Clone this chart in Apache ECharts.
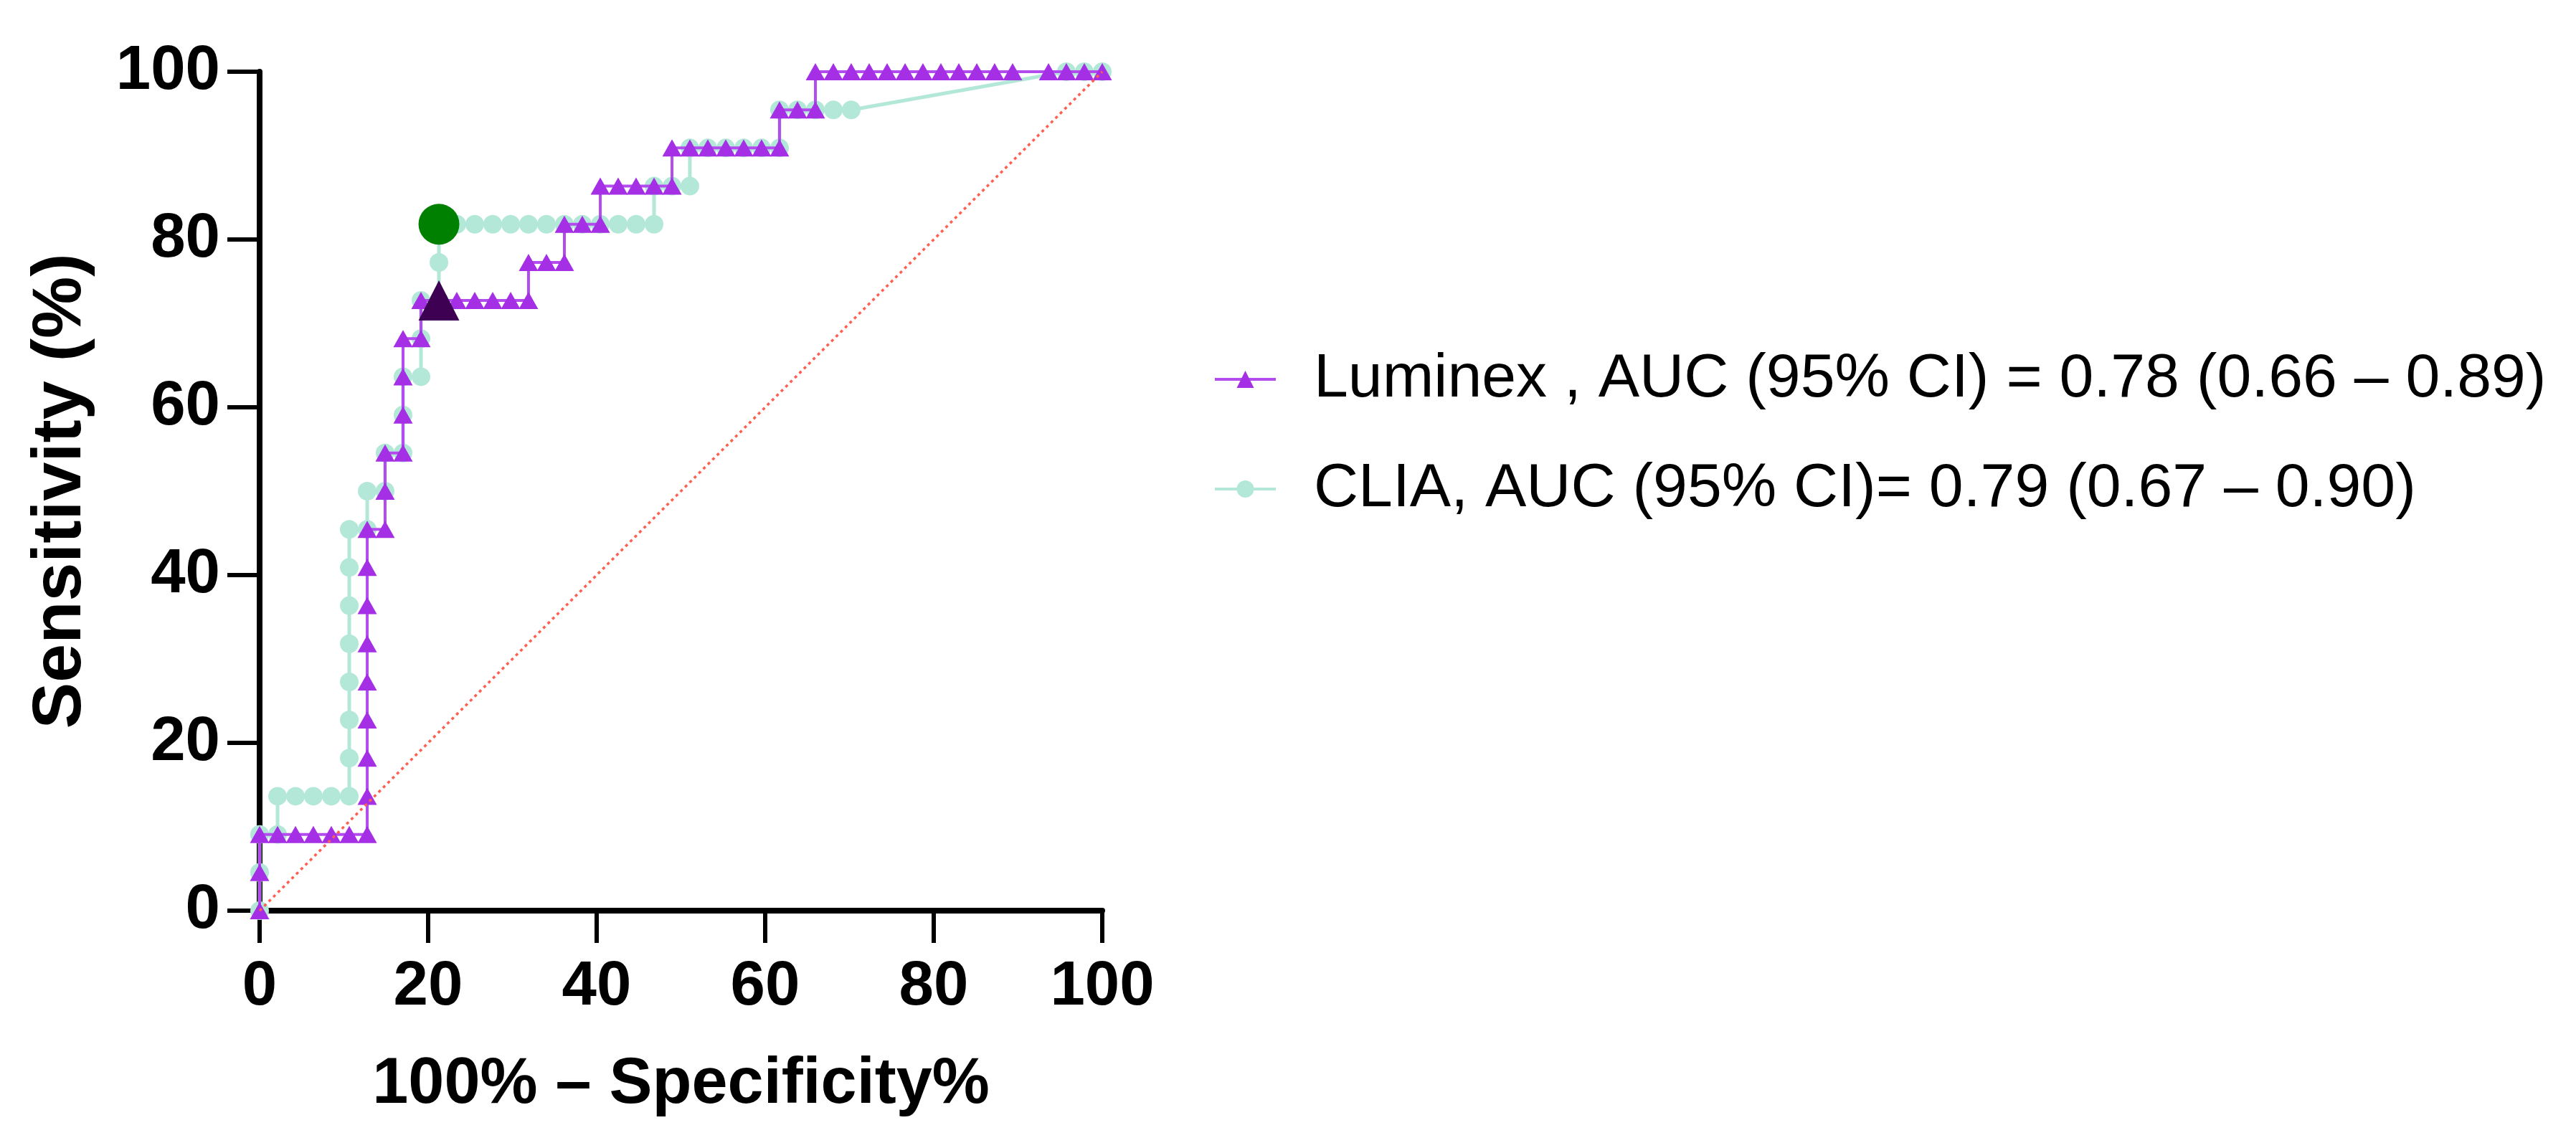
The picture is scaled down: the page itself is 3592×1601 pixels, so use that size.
<!DOCTYPE html>
<html><head><meta charset="utf-8">
<script src="https://cdn.jsdelivr.net/npm/echarts@6/dist/echarts.min.js"></script>
<style>html,body{margin:0;padding:0;background:#fff}#c{width:3592px;height:1601px}</style>
</head><body><div id="c"></div>
<script>
// ---- data ----
const seriesNames = ['Luminex , AUC (95% CI) = 0.78 (0.66 \u2013 0.89)', 'CLIA, AUC (95% CI)= 0.79 (0.67 \u2013 0.90)'];
const xAxisTitle = '100% \u2013 Specificity%';
const yAxisTitle = 'Sensitivity (%)';

const luminexFpr = [0,0,0,2.13,4.26,6.38,8.51,10.64,12.77,12.77,12.77,12.77,12.77,12.77,12.77,12.77,12.77,14.89,14.89,14.89,17.02,17.02,17.02,17.02,19.15,19.15,21.28,23.40,25.53,27.66,29.79,31.91,31.91,34.04,36.17,36.17,38.30,40.43,40.43,42.55,44.68,46.81,48.94,48.94,51.06,53.19,55.32,57.45,59.57,61.70,61.70,63.83,65.96,65.96,68.09,70.21,72.34,74.47,76.60,78.72,80.85,82.98,85.11,87.23,89.36,93.62,95.74,97.87,100];
const luminexSens = [0,4.55,9.09,9.09,9.09,9.09,9.09,9.09,9.09,13.64,18.18,22.73,27.27,31.82,36.36,40.91,45.45,45.45,50,54.55,54.55,59.09,63.64,68.18,68.18,72.73,72.73,72.73,72.73,72.73,72.73,72.73,77.27,77.27,77.27,81.82,81.82,81.82,86.36,86.36,86.36,86.36,86.36,90.91,90.91,90.91,90.91,90.91,90.91,90.91,95.45,95.45,95.45,100,100,100,100,100,100,100,100,100,100,100,100,100,100,100,100];

const cliaFpr = [0,0,0,2.13,2.13,4.26,6.38,8.51,10.64,10.64,10.64,10.64,10.64,10.64,10.64,10.64,12.77,12.77,14.89,14.89,17.02,17.02,17.02,19.15,19.15,19.15,21.28,21.28,21.28,23.40,25.53,27.66,29.79,31.91,34.04,36.17,38.30,40.43,42.55,44.68,46.81,46.81,48.94,51.06,51.06,53.19,55.32,57.45,59.57,61.70,61.70,63.83,65.96,68.09,70.21,95.74,97.87,100];
const cliaSens = [0,4.55,9.09,9.09,13.64,13.64,13.64,13.64,13.64,18.18,22.73,27.27,31.82,36.36,40.91,45.45,45.45,50,50,54.55,54.55,59.09,63.64,63.64,68.18,72.73,72.73,77.27,81.82,81.82,81.82,81.82,81.82,81.82,81.82,81.82,81.82,81.82,81.82,81.82,81.82,86.36,86.36,86.36,90.91,90.91,90.91,90.91,90.91,90.91,95.45,95.45,95.45,95.45,95.45,100,100,100];

const luminexCutoff = [21.28, 72.73];
const cliaCutoff = [21.28, 81.82];
const chanceLine = [[0, 0], [100, 100]];

// ---- build ----
const zip = (a, b) => a.map((v, i) => [v, b[i]]);
const FONT = '"Liberation Sans", Arial, sans-serif';
const PURPLE = '#a42fe4';
const PURPLE_LINE = '#b24cee';
const TEAL = '#b3e8d9';

const chart = echarts.init(document.getElementById('c'), null, {renderer: 'canvas'});

const axisCommon = {
  type: 'value', min: 0, max: 100, interval: 20,
  splitLine: {show: false},
  axisLine: {show: true, onZero: false, lineStyle: {color: '#000', width: 8}},
  axisTick: {show: true, length: 45, lineStyle: {color: '#000', width: 6}},
  nameLocation: 'middle',
  nameTextStyle: {fontFamily: FONT, fontWeight: 'bold', color: '#000'}
};

chart.setOption({
  animation: false,
  backgroundColor: '#fff',
  grid: {left: 362, right: 3592 - 1537, top: 100, bottom: 1601 - 1270, containLabel: false, outerBoundsMode: 'none'},
  xAxis: Object.assign({}, axisCommon, {
    name: xAxisTitle, nameGap: 198,
    nameTextStyle: {fontFamily: FONT, fontWeight: 'bold', color: '#000', fontSize: 90},
    axisLabel: {margin: 64, fontFamily: FONT, fontWeight: 'bold', fontSize: 87, color: '#000'}
  }),
  yAxis: Object.assign({}, axisCommon, {
    name: yAxisTitle, nameGap: 228,
    nameTextStyle: {fontFamily: FONT, fontWeight: 'bold', color: '#000', fontSize: 97},
    axisLabel: {margin: 55, fontFamily: FONT, fontWeight: 'bold', fontSize: 87, color: '#000'}
  }),
  legend: [
    {data: [seriesNames[0]], left: 1687, top: 479, itemWidth: 85, itemHeight: 30,
     lineStyle: {width: 4},
     textStyle: {fontFamily: FONT, fontSize: 86, lineHeight: 90, color: '#000', padding: [0, 0, 0, 48]}},
    {data: [seriesNames[1]], left: 1687, top: 632, itemWidth: 85, itemHeight: 30,
     lineStyle: {width: 4},
     textStyle: {fontFamily: FONT, fontSize: 86, lineHeight: 90, color: '#000', padding: [0, 0, 0, 48]}}
  ],
  series: [
    {
      name: seriesNames[1], type: 'line', data: zip(cliaFpr, cliaSens), z: 2,
      symbol: 'circle', symbolSize: 26,
      itemStyle: {color: TEAL},
      lineStyle: {color: TEAL, width: 5}
    },
    {
      name: seriesNames[0], type: 'line', data: zip(luminexFpr, luminexSens), z: 3,
      symbol: 'triangle', symbolSize: [27, 24],
      itemStyle: {color: PURPLE},
      lineStyle: {color: PURPLE_LINE, width: 4}
    },
    {
      type: 'line', data: chanceLine, z: 4, symbol: 'none', silent: true,
      lineStyle: {color: '#ff5f50', width: 3.5, type: [4, 5]}
    },
    {
      type: 'scatter', data: [cliaCutoff], z: 5, symbol: 'circle', symbolSize: 57,
      itemStyle: {color: '#008000', opacity: 1}
    },
    {
      type: 'scatter', data: [luminexCutoff], z: 6, symbol: 'triangle', symbolSize: [57, 56],
      itemStyle: {color: '#3e0052', opacity: 1}
    }
  ]
});
</script></body></html>
